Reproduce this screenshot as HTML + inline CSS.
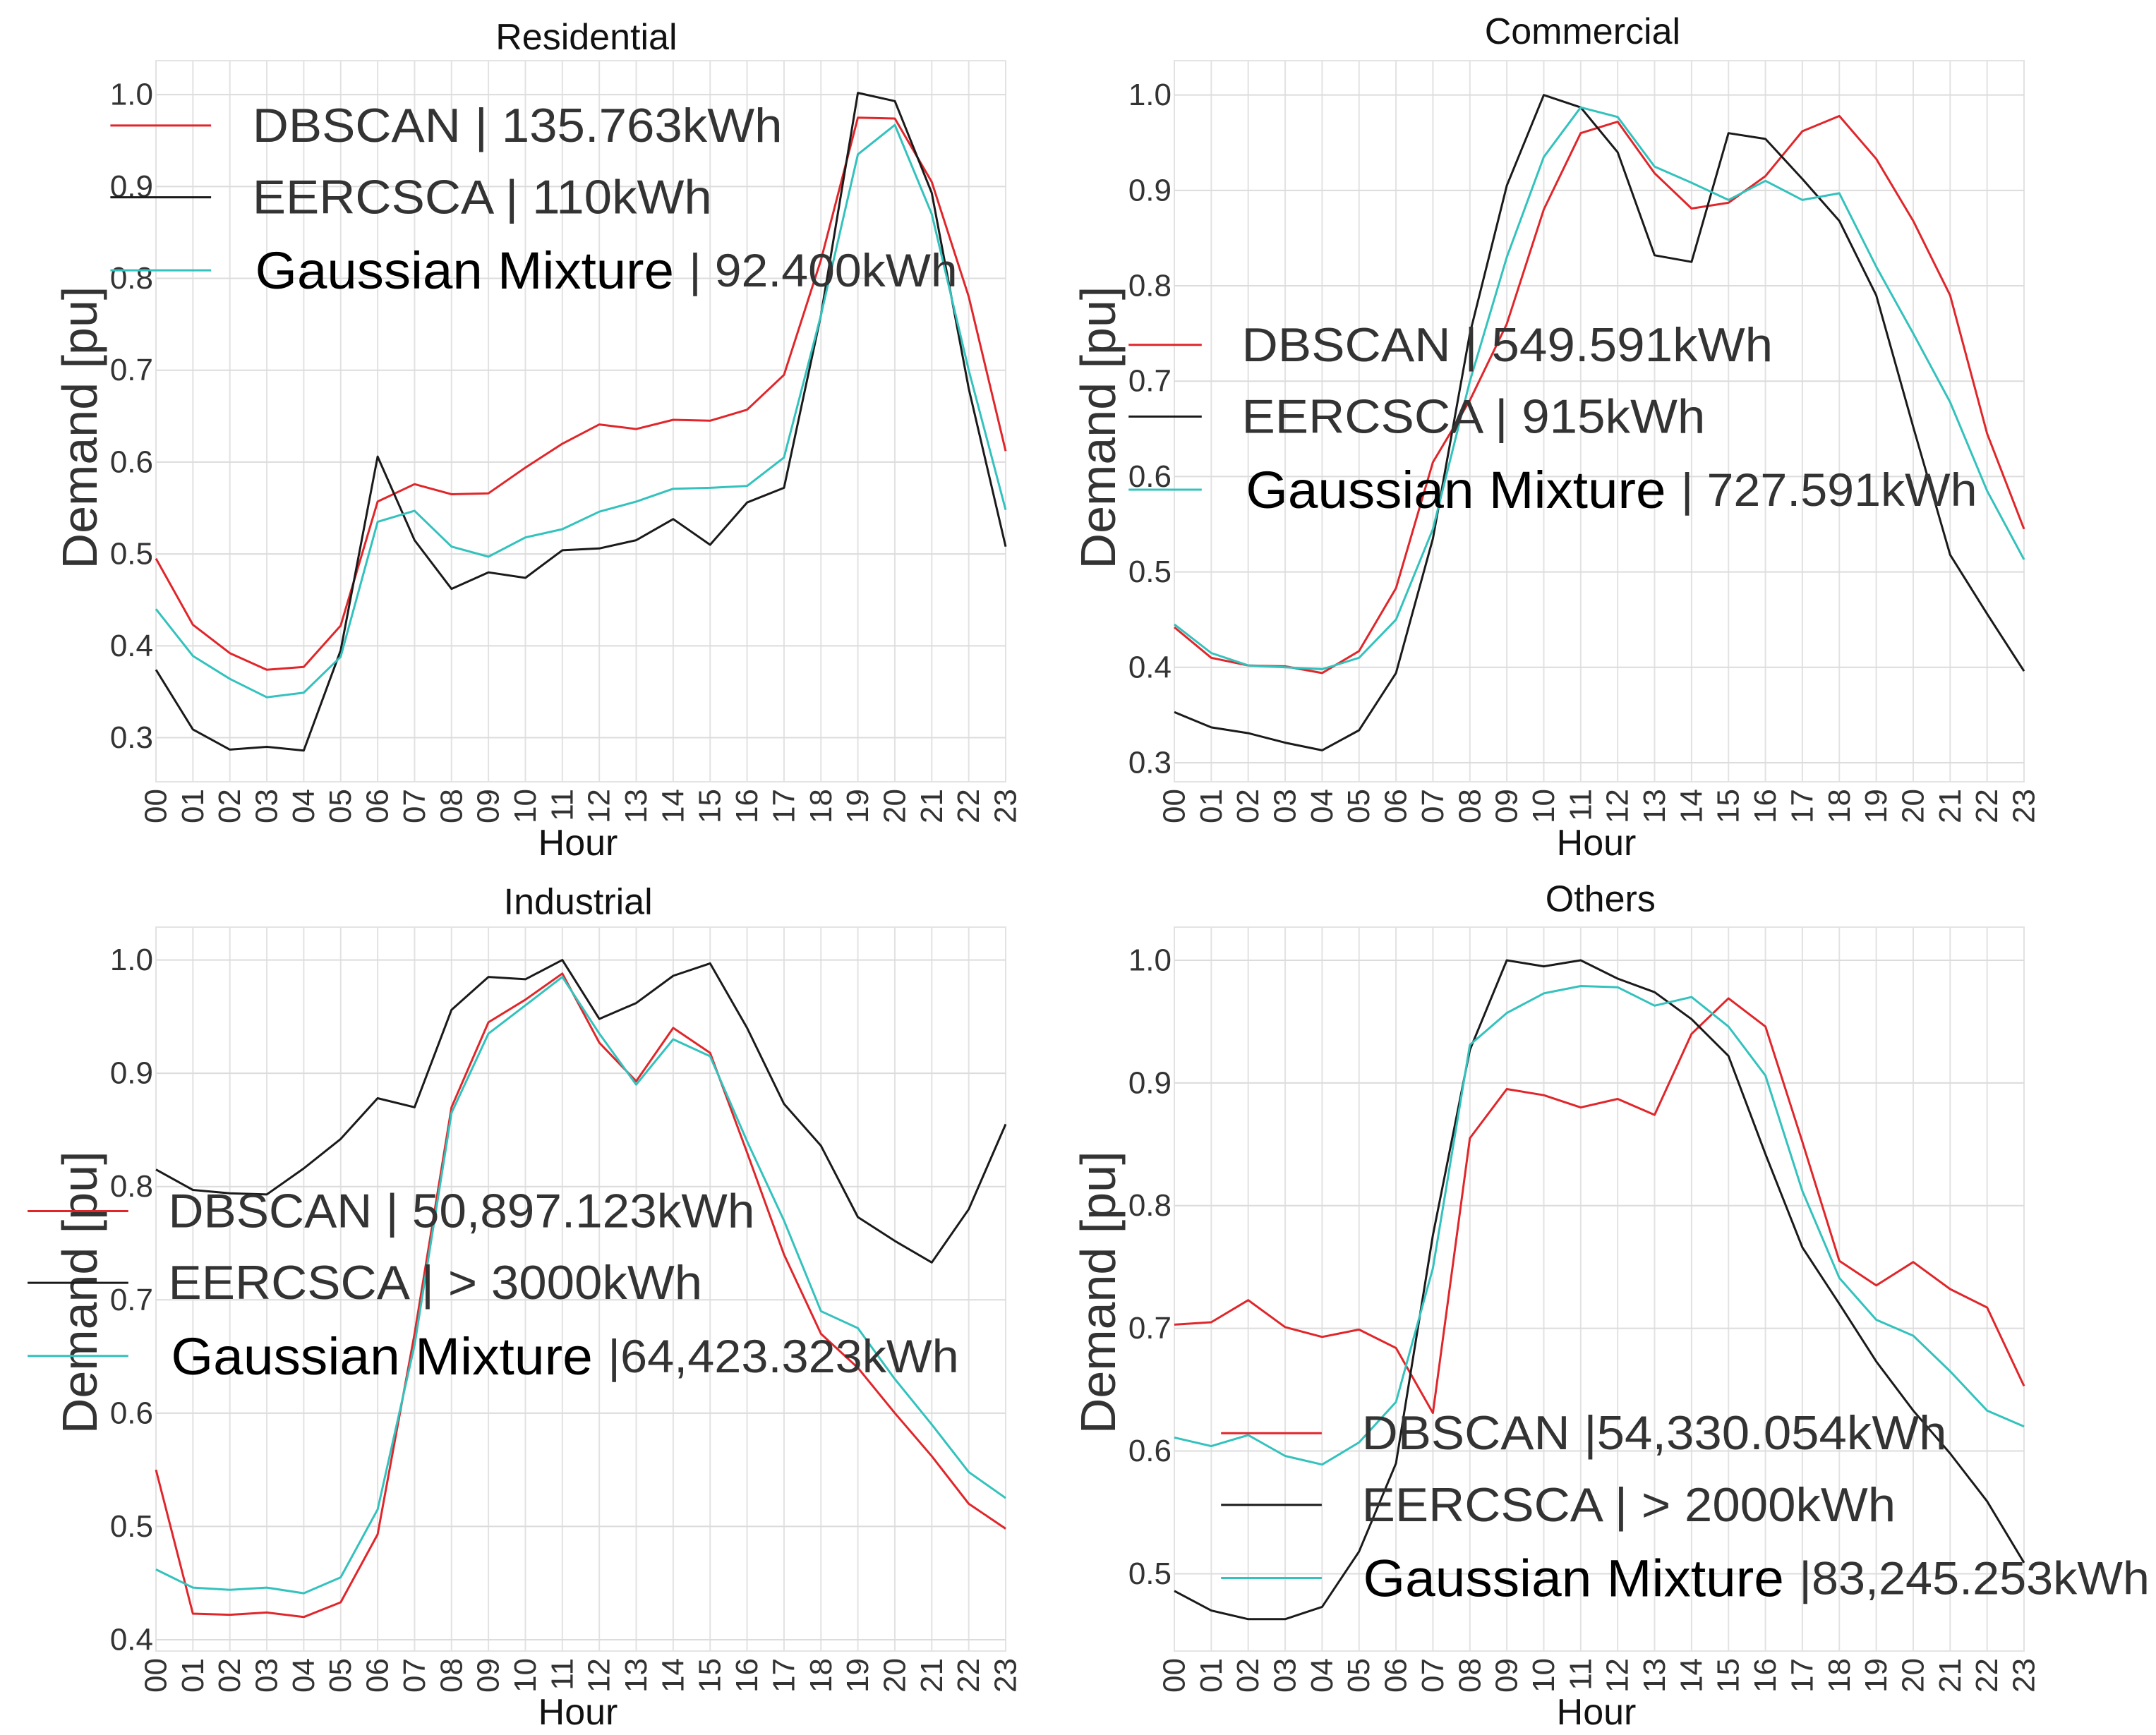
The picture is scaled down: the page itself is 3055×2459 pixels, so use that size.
<!DOCTYPE html>
<html><head><meta charset="utf-8">
<style>
html,body{margin:0;padding:0;background:#fff;}
svg{display:block;font-family:"Liberation Sans",Arial,sans-serif;}
</style></head>
<body>
<svg id="chart" width="3055" height="2459" viewBox="0 0 3055 2459" xmlns="http://www.w3.org/2000/svg"></svg>
<script>
const hours = ["00","01","02","03","04","05","06","07","08","09","10","11","12","13","14","15","16","17","18","19","20","21","22","23"];

const resDbscan = [0.495,0.423,0.392,0.374,0.377,0.422,0.557,0.576,0.565,0.566,0.594,0.620,0.641,0.636,0.646,0.645,0.657,0.695,0.820,0.975,0.974,0.905,0.780,0.612];
const resEercsca = [0.374,0.309,0.287,0.290,0.286,0.395,0.606,0.515,0.462,0.480,0.474,0.504,0.506,0.515,0.538,0.510,0.556,0.572,0.760,1.002,0.993,0.893,0.680,0.508];
const resGmm = [0.440,0.389,0.364,0.344,0.349,0.388,0.535,0.547,0.508,0.497,0.518,0.527,0.546,0.557,0.571,0.572,0.574,0.605,0.760,0.935,0.967,0.870,0.700,0.548];
const resTicks = [0.3,0.4,0.5,0.6,0.7,0.8,0.9,1.0];

const comDbscan = [0.442,0.410,0.402,0.401,0.394,0.417,0.483,0.615,0.680,0.760,0.880,0.960,0.972,0.918,0.881,0.887,0.915,0.962,0.978,0.933,0.868,0.790,0.645,0.545];
const comEercsca = [0.353,0.337,0.331,0.321,0.313,0.334,0.394,0.535,0.750,0.905,1.000,0.987,0.940,0.832,0.825,0.960,0.954,0.912,0.868,0.790,0.652,0.518,0.456,0.396];
const comGmm = [0.445,0.415,0.402,0.400,0.398,0.410,0.450,0.545,0.700,0.830,0.935,0.987,0.977,0.925,0.908,0.890,0.910,0.890,0.897,0.820,0.750,0.678,0.585,0.513];
const comTicks = [0.3,0.4,0.5,0.6,0.7,0.8,0.9,1.0];

const indDbscan = [0.550,0.423,0.422,0.424,0.420,0.433,0.493,0.670,0.870,0.945,0.965,0.988,0.927,0.893,0.940,0.918,0.830,0.740,0.670,0.640,0.600,0.562,0.520,0.498];
const indEercsca = [0.815,0.797,0.794,0.793,0.816,0.842,0.878,0.870,0.956,0.985,0.983,1.000,0.948,0.962,0.986,0.997,0.940,0.873,0.836,0.773,0.752,0.733,0.780,0.855];
const indGmm = [0.462,0.446,0.444,0.446,0.441,0.455,0.515,0.660,0.865,0.935,0.960,0.985,0.935,0.890,0.930,0.915,0.840,0.770,0.690,0.675,0.630,0.590,0.548,0.525];
const indTicks = [0.4,0.5,0.6,0.7,0.8,0.9,1.0];

const othDbscan = [0.703,0.705,0.723,0.701,0.693,0.699,0.684,0.631,0.855,0.895,0.890,0.880,0.887,0.874,0.940,0.969,0.946,0.852,0.755,0.735,0.754,0.732,0.717,0.653];
const othEercsca = [0.486,0.470,0.463,0.463,0.473,0.518,0.590,0.776,0.927,1.000,0.995,1.000,0.985,0.974,0.952,0.922,0.842,0.766,0.720,0.673,0.633,0.598,0.559,0.509];
const othGmm = [0.611,0.604,0.613,0.596,0.589,0.607,0.640,0.749,0.931,0.957,0.973,0.979,0.978,0.963,0.970,0.946,0.906,0.812,0.741,0.707,0.694,0.665,0.633,0.620];
const othTicks = [0.5,0.6,0.7,0.8,0.9,1.0];

const resLegend = ["135.763kWh","110kWh","92.400kWh"];
const comLegend = ["549.591kWh","915kWh","727.591kWh"];
const indLegend = ["50,897.123kWh","> 3000kWh","64,423.323kWh"];
const othLegend = ["|54,330.054kWh","| > 2000kWh","|83,245.253kWh"];

const NS = "http://www.w3.org/2000/svg";
const svg = document.getElementById("chart");
function mk(tag, attrs, parent){
  const e = document.createElementNS(NS, tag);
  for (const k in attrs) e.setAttribute(k, attrs[k]);
  (parent||svg).appendChild(e);
  return e;
}
const COLORS = {dbscan:"#e0262a", eercsca:"#1a1a1a", gmm:"#33c2bd"};

function panel(cfg){
  const g = mk("g", {});
  
  
  const {x0,x1,y0,y1,vmin,vmax} = cfg;
  const xs = i => x0 + (x1-x0)*i/(hours.length-1);
  const ys = v => y1 - (y1-y0)*(v-vmin)/(vmax-vmin);
  // background frame
  const fr = mk("rect",{x:x0,y:y0,width:x1-x0,height:y1-y0,fill:"#fff",stroke:"#e4e4e4","stroke-width":2},g);
  
  
  // vertical grid + x tick labels
  hours.forEach((h,i)=>{
    const gl = mk("line",{x1:xs(i),x2:xs(i),y1:y0,y2:y1,stroke:"#e2e2e2","stroke-width":2},g);
    
    
    const t = mk("text",{x:0,y:0,transform:`translate(${xs(i)},${y1+10}) rotate(-90)`,"text-anchor":"end","dominant-baseline":"central","font-size":44,fill:"#333"},g);
    t.textContent = h;
    
    
  });
  cfg.ticks.forEach(v=>{
    const gl = mk("line",{x1:x0,x2:x1,y1:ys(v),y2:ys(v),stroke:"#dcdcdc","stroke-width":2},g);
    
    
    const t = mk("text",{x:x0-4,y:ys(v),"text-anchor":"end","dominant-baseline":"central","font-size":44,fill:"#333"},g);
    t.textContent = v.toFixed(1);
    
    
  });
  // series
  const series = [["dbscan",cfg.d1],["eercsca",cfg.d2],["gmm",cfg.d3]];
  series.forEach(([k,arr])=>{
    const p = mk("polyline",{points:arr.map((v,i)=>xs(i).toFixed(1)+","+ys(v).toFixed(1)).join(" "),fill:"none",stroke:COLORS[k],"stroke-width":3,"stroke-linejoin":"round"},g);
    
    
  });
  // titles
  const tt = mk("text",{x:cfg.tx,y:cfg.ty,"text-anchor":"middle","dominant-baseline":"central","font-size":52,fill:"#111"},g);
  tt.textContent = cfg.title;
  
  
  const hx = mk("text",{x:(x0+x1)/2 - 4,y:y1+87,"text-anchor":"middle","dominant-baseline":"central","font-size":52,fill:"#111"},g);
  hx.textContent = "Hour";
  
  
  const yt = mk("text",{x:0,y:0,transform:`translate(${x0-108},${cfg.yty}) rotate(-90)`,"text-anchor":"middle","dominant-baseline":"central","font-size":70,fill:"#333","xml:space":"preserve"},g);
  yt.textContent = "Demand  [pu]";
  
  
  // legend
  const names = ["DBSCAN","EERCSCA","Gaussian Mixture"];
  const keys = ["dbscan","eercsca","gmm"];
  names.forEach((n,i)=>{
    const L = cfg.leg[i];
    const ll = mk("line",{x1:cfg.lx0,x2:cfg.lx1,y1:L.y,y2:L.y,stroke:COLORS[keys[i]],"stroke-width":3},g);
    
    
    const t = mk("text",{x:L.x,y:L.y,"dominant-baseline":"central","font-size":i==2?74:68,fill:"#333",textLength:L.w,lengthAdjust:"spacingAndGlyphs","xml:space":"preserve"},g);
    const a = mk("tspan",{fill:i==2?"#000":"#333"},t); a.textContent = n + " ";
    const b = mk("tspan",{"font-size":i==2?66:68}, t);
    b.textContent = (cfg.key==="others" ? "" : "| ") + cfg.legText[i];
    if (cfg.key==="industrial" && i==2){ b.textContent = "|" + cfg.legText[i]; }
    
    
  });
}
const F = 1.955;
panel({key:"residential",title:"Residential",x0:221,x1:1425,y0:86,y1:1108,vmin:0.252,vmax:1.037,ticks:resTicks,
  d1:resDbscan,d2:resEercsca,d3:resGmm,tx:425*F,ty:27*F,yty:310*F,lx0:80*F,lx1:153*F,legText:resLegend,
  leg:[{x:183*F,y:91*F,w:384*F},{x:183*F,y:143*F,w:333*F},{x:185*F,y:196*F,w:509*F}]});
panel({key:"commercial",title:"Commercial",x0:1664,x1:2868,y0:86,y1:1108,vmin:0.28,vmax:1.036,ticks:comTicks,
  d1:comDbscan,d2:comEercsca,d3:comGmm,tx:1147*F,ty:23*F,yty:310*F,lx0:818*F,lx1:871*F,legText:comLegend,
  leg:[{x:900*F,y:250*F,w:385*F},{x:900*F,y:302*F,w:336*F},{x:903*F,y:355*F,w:530*F}]});
panel({key:"industrial",title:"Industrial",x0:221,x1:1425,y0:1314,y1:2340,vmin:0.39,vmax:1.029,ticks:indTicks,
  d1:indDbscan,d2:indEercsca,d3:indGmm,tx:419*F,ty:654*F,yty:937*F,lx0:20*F,lx1:93*F,legText:indLegend,
  leg:[{x:122*F,y:878*F,w:425*F},{x:122*F,y:930*F,w:387*F},{x:124*F,y:983*F,w:571*F}]});
panel({key:"others",title:"Others",x0:1664,x1:2868,y0:1314,y1:2340,vmin:0.437,vmax:1.027,ticks:othTicks,
  d1:othDbscan,d2:othEercsca,d3:othGmm,tx:1160*F,ty:652*F,yty:937*F,lx0:885*F,lx1:958*F,legText:othLegend,
  leg:[{x:987*F,y:1039*F,w:424*F},{x:987*F,y:1091*F,w:387*F},{x:988*F,y:1144*F,w:570*F}]});
</script>
</body></html>
